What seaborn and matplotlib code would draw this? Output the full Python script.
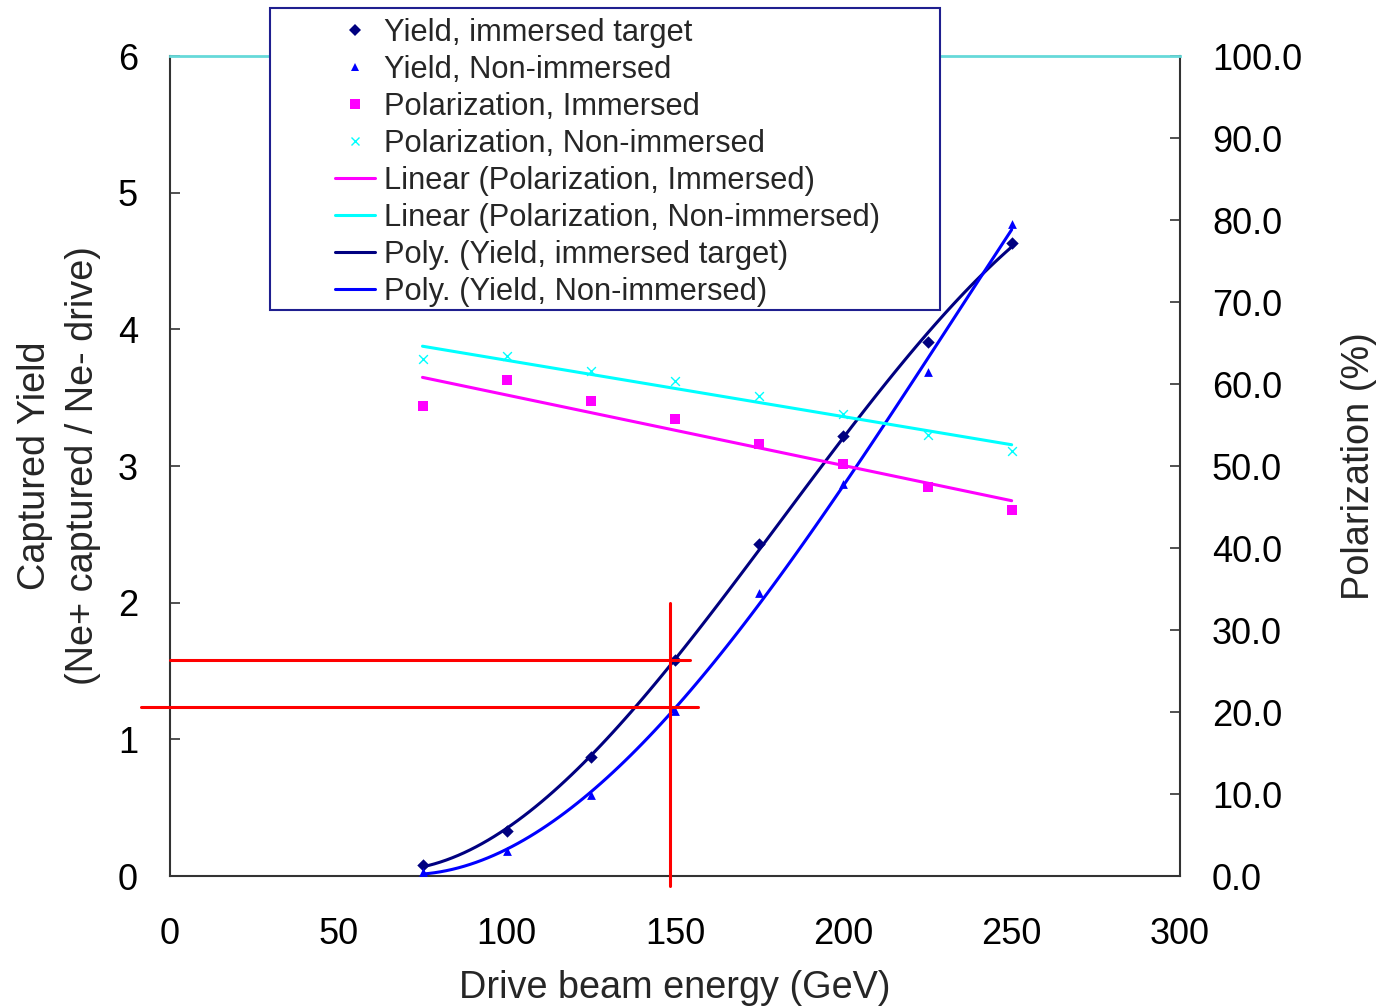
import numpy as np
import pandas as pd
import matplotlib
matplotlib.use("Agg")
import matplotlib.pyplot as plt
import seaborn as sns
from matplotlib.lines import Line2D
from matplotlib.patches import Rectangle

# ---- data ----
energy = [75, 100, 125, 150, 175, 200, 225, 250]
yield_immersed = [0.08, 0.33, 0.87, 1.58, 2.43, 3.22, 3.91, 4.63]
yield_non_immersed = [0.03, 0.18, 0.59, 1.21, 2.07, 2.87, 3.69, 4.77]
pol_immersed = [57.3, 60.5, 57.9, 55.7, 52.7, 50.2, 47.4, 44.6]
pol_non_immersed = [63.0, 63.4, 61.6, 60.4, 58.5, 56.3, 53.8, 51.8]

x_ticks = [0, 50, 100, 150, 200, 250, 300]
left_ticks = [0, 1, 2, 3, 4, 5, 6]
right_ticks = [0, 10, 20, 30, 40, 50, 60, 70, 80, 90, 100]

# red reference lines (energy / yield values)
ref_vline_x = 148.5
ref_vline_span = [-0.07, 2.0]
ref_hlines_y = [1.58, 1.24]
ref_hlines_x0 = [0.0, -8.6]
ref_hlines_x1 = [154.4, 156.8]

legend_labels = [
    "Yield, immersed target",
    "Yield, Non-immersed",
    "Polarization, Immersed",
    "Polarization, Non-immersed",
    "Linear (Polarization, Immersed)",
    "Linear (Polarization, Non-immersed)",
    "Poly. (Yield, immersed target)",
    "Poly. (Yield, Non-immersed)",
]

df = pd.DataFrame({
    "energy": energy,
    "yield_immersed": yield_immersed,
    "yield_non": yield_non_immersed,
    "pol_immersed": pol_immersed,
    "pol_non": pol_non_immersed,
})

NAVY = "#000080"
BLUE = "#0000FF"
MAGENTA = "#FF00FF"
CYAN = "#00FFFF"
SPINE = "#333333"

sns.set_style("white")
plt.rcParams["font.family"] = ["Liberation Sans", "DejaVu Sans"]

W, H = 1379, 1008
fig = plt.figure(figsize=(W / 100, H / 100), dpi=100)
ax = fig.add_axes([170 / W, 1 - 876 / H, 1010 / W, 820 / H])
ax2 = ax.twinx()

LW = 2.2
# polynomial trendlines for yield
sns.regplot(data=df, x="energy", y="yield_immersed", order=3, ci=None,
            scatter=False, ax=ax, color=NAVY, line_kws=dict(lw=LW, zorder=2))
sns.regplot(data=df, x="energy", y="yield_non", order=3, ci=None,
            scatter=False, ax=ax, color=BLUE, line_kws=dict(lw=LW, zorder=2))
sns.scatterplot(data=df, x="energy", y="yield_immersed", marker="D", s=40,
                color=NAVY, linewidth=0, ax=ax, zorder=3)
sns.scatterplot(data=df, x="energy", y="yield_non", marker="^", s=40,
                color=BLUE, linewidth=0, ax=ax, zorder=3)

# linear trendlines for polarization
sns.regplot(data=df, x="energy", y="pol_immersed", order=1, ci=None,
            scatter=False, ax=ax2, color=MAGENTA, line_kws=dict(lw=LW, zorder=2))
sns.regplot(data=df, x="energy", y="pol_non", order=1, ci=None,
            scatter=False, ax=ax2, color=CYAN, line_kws=dict(lw=LW, zorder=2))
sns.scatterplot(data=df, x="energy", y="pol_immersed", marker="s", s=60,
                color=MAGENTA, linewidth=0, ax=ax2, zorder=3)
sns.scatterplot(data=df, x="energy", y="pol_non", marker="x", s=40,
                color=CYAN, linewidth=1.0, ax=ax2, zorder=3)

# red reference lines
ax.plot([ref_vline_x, ref_vline_x], ref_vline_span, color="red", lw=LW,
        clip_on=False, zorder=5)
for yv, x0, x1 in zip(ref_hlines_y, ref_hlines_x0, ref_hlines_x1):
    ax.plot([x0, x1], [yv, yv], color="red", lw=LW, clip_on=False, zorder=5)

# axes limits / ticks
ax.set_xlim(0, 300)
ax.set_ylim(0, 6)
ax2.set_ylim(0, 100)
ax.set_xticks(x_ticks)
ax.set_yticks(left_ticks)
ax2.set_yticks(right_ticks)
ax2.set_yticklabels([f"{v:.1f}" for v in right_ticks])

FS = 26
LFS = 27.3
for a in (ax, ax2):
    a.tick_params(direction="in", length=7, width=1.2, labelsize=FS, pad=23,
                  colors="black")
    a.tick_params(axis="both", color=SPINE)
    for s in a.spines.values():
        s.set_linewidth(1.5)
        s.set_color(SPINE)
ax.tick_params(axis="x", pad=29.5)
ax.spines["top"].set_visible(False)
ax.spines["right"].set_visible(False)
ax2.spines["left"].set_visible(False)
ax2.spines["bottom"].set_visible(False)
ax2.spines["top"].set_color("#66d9d9")
ax2.spines["top"].set_linewidth(2)

ax.set_xlabel("Drive beam energy (GeV)", fontsize=LFS, labelpad=13)
ax.set_ylabel("Captured Yield\n(Ne+ captured / Ne- drive)", fontsize=LFS,
              linespacing=1.42, labelpad=12)
ax2.set_ylabel("Polarization (%)", fontsize=LFS, labelpad=28)

# legend with framed box
rect = Rectangle((270 / W, 1 - 310 / H), 670 / W, 302 / H,
                 transform=fig.transFigure, facecolor="white",
                 edgecolor="#1f1f8f", lw=1.5, zorder=4)
fig.add_artist(rect)

handles = [
    Line2D([], [], ls="none", marker="D", ms=6, color=NAVY, mew=0),
    Line2D([], [], ls="none", marker="^", ms=6, color=BLUE, mew=0),
    Line2D([], [], ls="none", marker="s", ms=7.5, color=MAGENTA, mew=0),
    Line2D([], [], ls="none", marker="x", ms=6, color=CYAN, mew=1.0),
    Line2D([], [], color=MAGENTA, lw=LW),
    Line2D([], [], color=CYAN, lw=LW),
    Line2D([], [], color=NAVY, lw=LW),
    Line2D([], [], color=BLUE, lw=LW),
]
leg = fig.legend(handles, legend_labels, loc="upper left",
                 bbox_to_anchor=(335 / W, 1 - 17.5 / H), frameon=False,
                 fontsize=22.2, handlelength=1.3, handletextpad=0.3,
                 labelspacing=0.23, borderpad=0, borderaxespad=0)
leg.set_zorder(6)

fig.savefig("out.png", dpi=100)
